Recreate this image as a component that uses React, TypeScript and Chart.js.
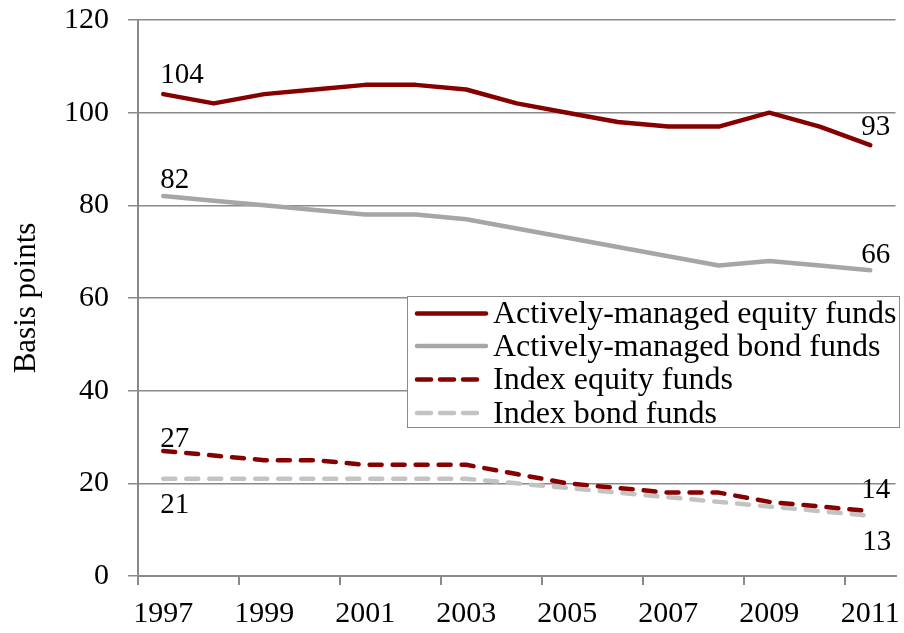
import React, { useEffect, useRef } from 'react';
import { Chart, registerables } from 'chart.js';

Chart.register(...registerables);

const years = ['1997', '1998', '1999', '2000', '2001', '2002', '2003', '2004', '2005', '2006', '2007', '2008', '2009', '2010', '2011'];
const activeEquity = [104, 102, 104, 105, 106, 106, 105, 102, 100, 98, 97, 97, 100, 97, 93];
const activeBond = [82, 81, 80, 79, 78, 78, 77, 75, 73, 71, 69, 67, 68, 67, 66];
const indexEquity = [27, 26, 25, 25, 24, 24, 24, 22, 20, 19, 18, 18, 16, 15, 14];
const indexBond = [21, 21, 21, 21, 21, 21, 21, 20, 19, 18, 17, 16, 15, 14, 13];
const yTicks = [0, 20, 40, 60, 80, 100, 120];
const seriesNames = ['Actively-managed equity funds', 'Actively-managed bond funds', 'Index equity funds', 'Index bond funds'];

const FONT = '"Liberation Serif", "Times New Roman", Times, serif';
const RED = '#870000';
const GRAY = '#a6a6a6';
const LIGHT = '#c3c3c3';
const AXIS = '#8a8a8a';

// label offsets (first point dx, dy ; last point dx, dy), text baseline alphabetic
const labelStyle = [
  { first: [-3, -11], last: [20, -10] },
  { first: [-3, -8], last: [20, -7] },
  { first: [-3, -4], last: [20, -13] },
  { first: [-3, 34], last: [21, 34] },
];

const endLabelsPlugin = {
  id: 'endLabels',
  afterDatasetsDraw(chart: any) {
    const ctx = chart.ctx;
    ctx.save();
    ctx.font = `29px ${FONT}`;
    ctx.fillStyle = '#000';
    ctx.textBaseline = 'alphabetic';
    chart.data.datasets.forEach((ds: any, i: number) => {
      const meta = chart.getDatasetMeta(i);
      const n = meta.data.length;
      const p0 = meta.data[0];
      const p1 = meta.data[n - 1];
      const st = labelStyle[i];
      ctx.textAlign = 'left';
      ctx.fillText(String(ds.data[0]), p0.x + st.first[0], p0.y + st.first[1]);
      ctx.textAlign = 'right';
      ctx.fillText(String(ds.data[n - 1]), p1.x + st.last[0], p1.y + st.last[1]);
    });
    ctx.restore();
  },
};

const boxLegendPlugin = {
  id: 'boxLegend',
  afterDraw(chart: any) {
    const ctx = chart.ctx;
    const x0 = 407, y0 = 296, w = 493, h = 132;
    ctx.save();
    ctx.fillStyle = '#fff';
    ctx.fillRect(x0, y0, w, h);
    ctx.strokeStyle = AXIS;
    ctx.lineWidth = 1;
    ctx.strokeRect(x0 + 0.5, y0 + 0.5, w - 1, h - 1);
    const rowY = [313.5, 346, 379.5, 413];
    chart.data.datasets.forEach((ds: any, i: number) => {
      const y = rowY[i];
      ctx.strokeStyle = ds.borderColor;
      ctx.lineWidth = 4.5;
      ctx.lineCap = 'round';
      if (ds.borderDash && ds.borderDash.length) {
        ctx.setLineDash([14, 9]);
        ctx.beginPath();
        ctx.moveTo(417, y);
        ctx.lineTo(478, y);
        ctx.stroke();
      } else {
        ctx.setLineDash([]);
        ctx.beginPath();
        ctx.moveTo(417, y);
        ctx.lineTo(486, y);
        ctx.stroke();
      }
      ctx.setLineDash([]);
      ctx.fillStyle = '#000';
      ctx.font = `32px ${FONT}`;
      ctx.textAlign = 'left';
      ctx.textBaseline = 'alphabetic';
      ctx.fillText(ds.label, 493, y + 9.5);
    });
    ctx.restore();
  },
};

export default function App() {
  const ref = useRef<HTMLCanvasElement>(null);
  useEffect(() => {
    const mk = (label: string, data: number[], color: string, dashed: boolean) => ({
      label,
      data,
      borderColor: color,
      backgroundColor: color,
      borderWidth: 4.5,
      borderCapStyle: 'round',
      borderJoinStyle: 'round',
      borderDash: dashed ? [12, 11] : [],
      pointRadius: 0,
      pointHoverRadius: 0,
      tension: 0,
      fill: false,
    });
    const chart = new Chart(ref.current as HTMLCanvasElement, {
      type: 'line',
      data: {
        labels: years,
        datasets: [
          mk(seriesNames[0], activeEquity, RED, false),
          mk(seriesNames[1], activeBond, GRAY, false),
          mk(seriesNames[2], indexEquity, RED, true),
          mk(seriesNames[3], indexBond, LIGHT, true),
        ] as any,
      },
      options: {
        responsive: false,
        animation: false,
        events: [],
        layout: { padding: { top: 20, right: 8.5, left: 0, bottom: 0 } },
        plugins: {
          legend: { display: false },
          tooltip: { enabled: false },
        },
        scales: {
          x: {
            type: 'category',
            offset: true,
            grid: {
              offset: true,
              drawOnChartArea: false,
              drawTicks: true,
              tickLength: 9,
              lineWidth: 2,
              color: (c: any) => (c.index !== undefined && c.index % 2 === 0 ? AXIS : 'rgba(0,0,0,0)'),
            },
            border: { display: true, color: AXIS, width: 2 },
            ticks: {
              autoSkip: false,
              maxRotation: 0,
              minRotation: 0,
              padding: 11,
              color: '#000',
              font: { family: FONT, size: 30 },
              callback: (_v: any, i: number) => (i % 2 === 0 ? years[i] : ''),
            },
            afterFit: (s: any) => { s.height = 57; s.paddingLeft = 0; s.paddingRight = 0; },
          },
          y: {
            min: 0,
            max: 120,
            afterBuildTicks: (s: any) => { s.ticks = yTicks.map((v) => ({ value: v })); },
            grid: { color: AXIS, lineWidth: 1.5, tickLength: 10, drawTicks: true },
            border: { display: true, color: AXIS, width: 2 },
            ticks: {
              padding: 19,
              color: '#000',
              font: { family: FONT, size: 30 },
            },
            title: {
              display: true,
              text: 'Basis points',
              color: '#000',
              font: { family: FONT, size: 31 },
              padding: { top: 8, bottom: 0 },
            },
            afterFit: (s: any) => { s.width = 138; s.paddingTop = 0; s.paddingBottom = 0; },
          },
        },
      },
      plugins: [endLabelsPlugin, boxLegendPlugin],
    });
    return () => chart.destroy();
  }, []);
  return (
    <div style={{ position: 'absolute', left: 0, top: 0, width: 904, height: 633, background: '#fff' }}>
      <canvas ref={ref} width={904} height={633} style={{ display: 'block', width: 904, height: 633 }} />
    </div>
  );
}
